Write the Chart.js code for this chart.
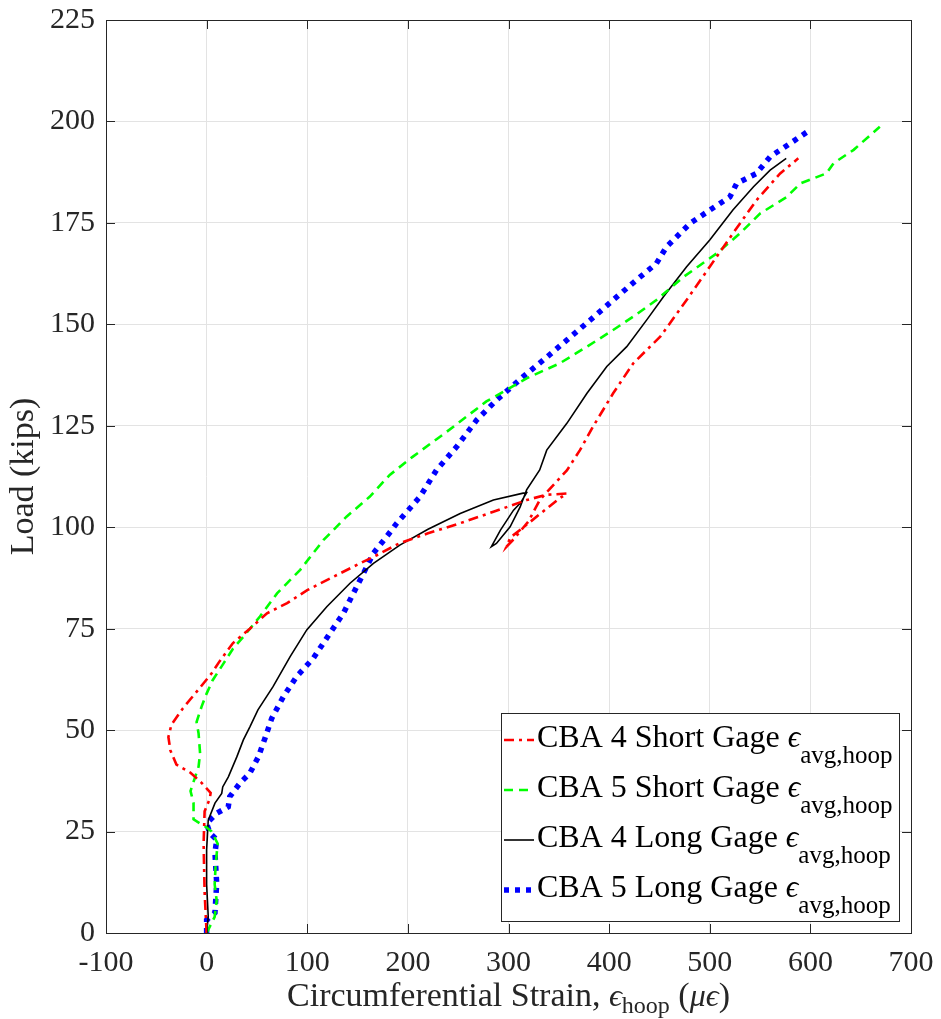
<!DOCTYPE html>
<html>
<head>
<meta charset="utf-8">
<script src="https://cdn.jsdelivr.net/npm/chart.js@4.4.1/dist/chart.umd.min.js"></script>
<style>
  html, body { margin: 0; padding: 0; background: #fff; }
  #wrap { width: 941px; height: 1019px; position: relative; }
</style>
</head>
<body>
<div id="wrap"><canvas id="loadChart"></canvas></div>
<script>
// tick labels
const xTicks = [-100, 0, 100, 200, 300, 400, 500, 600, 700];
const yTicks = [0, 25, 50, 75, 100, 125, 150, 175, 200, 225];

// CBA 4 short gage (red, dash-dot)
const cba4ShortStrain = [0, -2, -3, -2, 3, 4, -5, -16, -30, -36, -38, -35, -23.5, -8.5, 5, 13, 26, 43, 60, 80, 100, 126, 146, 169, 192, 220, 252, 285, 318, 338, 358, 350, 320, 302, 298, 305, 320, 331, 345, 358, 371, 384, 404, 424, 451, 477, 500, 523, 546.5, 570, 588];
const cba4ShortLoad   = [0, 10, 22, 30, 33, 34.5, 37, 39.5, 41.5, 45, 48.3, 51.3, 55.4, 59.9, 64, 67, 71.4, 75, 78.8, 81.3, 84.5, 87.8, 90.3, 93.1, 96.1, 98.5, 101, 103.8, 106.7, 108, 108.3, 107, 101, 97.5, 95.2, 97, 101.5, 106.7, 110.5, 114, 119, 124.8, 133, 140.4, 147, 156, 164.2, 172.4, 180.6, 187.2, 190.9];

// CBA 5 short gage (green, dashed)
const cba5ShortStrain = [0, 8, 10, 8, 9, 11, 5, 0, -13, -13, -16, -12, -8, -6.5, -8, -10, -5, 0, 6, 17, 26, 36.5, 53, 70, 93, 116, 139, 162, 182, 205, 238.5, 278, 318, 351, 378, 404, 424, 447, 474, 507, 530, 550, 576.5, 590, 616, 623, 643, 669];
const cba5ShortLoad   = [0, 4, 8, 12, 17, 22, 25, 26, 28, 32, 35, 38, 41, 44.3, 49.2, 52, 55.8, 59, 62.3, 66.5, 70, 73, 78, 83.7, 89.5, 96.8, 102.6, 107.5, 112.9, 117.4, 123.5, 131, 136.7, 140.4, 144.5, 148.6, 151.9, 156, 161.7, 167.5, 172.4, 177.3, 181.4, 184.7, 187.2, 189.7, 193, 198.7];

// CBA 4 long gage (black, solid)
const cba4LongStrain = [0, 1.6, 0, 0, 1.6, 8.3, 15, 16, 21.6, 30, 36.5, 43, 51, 66, 83, 99.5, 119.4, 142.5, 165.8, 192, 220, 252, 285, 314.6, 318, 312, 305, 292, 283, 288, 301.6, 311.6, 318, 331, 338, 358, 378, 397.7, 417.5, 437.4, 454, 477, 500, 523, 543.5, 560, 576];
const cba4LongLoad   = [0, 4, 12, 20.5, 27.8, 32, 34.4, 36, 38.5, 43.4, 47.6, 50.8, 55, 60.7, 68.1, 74.7, 80.4, 86.2, 91.1, 95.6, 99.5, 103.4, 106.7, 108.4, 108.5, 106, 104.2, 99.3, 95.2, 96, 100.1, 105, 109.2, 114.1, 119, 125.6, 133, 139.6, 144.5, 151.1, 156.8, 164.2, 170.8, 178.2, 183.9, 188, 190.9];

// CBA 5 long gage (blue, dotted)
const cba5LongStrain = [0, 0, 8.3, 10, 8.3, 10, 3.3, 0, 10, 21.5, 23, 33, 43, 51.4, 58, 64.7, 76.2, 89.4, 106, 122.6, 135.9, 145.8, 155.8, 165.7, 179, 189, 212, 228.5, 248.4, 268.3, 288, 314.6, 334.6, 357.9, 381, 404, 427, 447, 457, 480.6, 500.4, 520, 526.7, 546.5, 560, 580, 599.6];
const cba5LongLoad   = [0, 3.2, 5, 12.2, 19.7, 23, 24.6, 27, 29.5, 31.1, 33.6, 36.9, 39.4, 43.4, 48, 52.9, 58.2, 63.2, 67.7, 73.9, 78.8, 83.7, 88.6, 93.6, 97.7, 101, 107.5, 114.1, 119.8, 126.4, 131.3, 137.1, 141.2, 146.1, 151, 156, 160.9, 165, 169.1, 174.9, 178.2, 181.4, 184.7, 187.2, 191.3, 194.6, 197.9];

const seriesNames = ['CBA 4 Short Gage', 'CBA 5 Short Gage', 'CBA 4 Long Gage', 'CBA 5 Long Gage'];

const FONT = "'Liberation Serif', 'Times New Roman', 'DejaVu Serif', serif";
const INK = '#262626';

function toPoints(xs, ys) {
    return xs.map((v, i) => ({ x: v, y: ys[i] }));
}

const series = [
    { data: toPoints(cba4ShortStrain, cba4ShortLoad), color: '#ff0000', width: 2.6, dash: [10, 5, 3, 5] },
    { data: toPoints(cba5ShortStrain, cba5ShortLoad), color: '#00ff00', width: 2.6, dash: [9, 6] },
    { data: toPoints(cba4LongStrain, cba4LongLoad), color: '#000000', width: 1.6, dash: [] },
    { data: toPoints(cba5LongStrain, cba5LongLoad), color: '#0000ff', width: 5.5, dash: [5, 6] }
];

// draws sub-scripted text pieces, returns end x
function drawPieces(ctx, pieces, x, y) {
    pieces.forEach(p => {
        ctx.font = p.font;
        ctx.fillText(p.text, x, y + (p.dy || 0));
        x += ctx.measureText(p.text).width;
    });
    return x;
}
function measurePieces(ctx, pieces) {
    let w = 0;
    pieces.forEach(p => { ctx.font = p.font; w += ctx.measureText(p.text).width; });
    return w;
}

const frameAndLegend = {
    id: 'frameAndLegend',
    afterDatasetsDraw(chart) {
        const { ctx, chartArea: a, scales: { x, y } } = chart;
        ctx.save();

        // box + inward ticks (MATLAB style)
        ctx.strokeStyle = INK;
        ctx.lineWidth = 1;
        ctx.beginPath();
        xTicks.forEach(v => {
            const px = Math.round(x.getPixelForValue(v)) + 0.5;
            ctx.moveTo(px, a.bottom); ctx.lineTo(px, a.bottom - 9);
            ctx.moveTo(px, a.top); ctx.lineTo(px, a.top + 9);
        });
        yTicks.forEach(v => {
            const py = Math.round(y.getPixelForValue(v)) + 0.5;
            ctx.moveTo(a.left, py); ctx.lineTo(a.left + 9, py);
            ctx.moveTo(a.right, py); ctx.lineTo(a.right - 9, py);
        });
        ctx.stroke();
        ctx.strokeRect(Math.round(a.left) + 0.5, Math.round(a.top) + 0.5, Math.round(a.width), Math.round(a.height));

        // legend
        const boxW = 398, boxH = 208;
        const bx = a.right - 12 - boxW, by = a.bottom - 12 - boxH;
        ctx.fillStyle = '#fff';
        ctx.fillRect(bx, by, boxW, boxH);
        ctx.strokeRect(Math.round(bx) + 0.5, Math.round(by) + 0.5, boxW, boxH);

        series.forEach((s, i) => {
            const base = by + 34 + i * 50;
            ctx.strokeStyle = s.color;
            ctx.lineWidth = s.width;
            ctx.setLineDash(s.dash);
            ctx.beginPath();
            ctx.moveTo(bx + 3, base - 7);
            ctx.lineTo(bx + 33, base - 7);
            ctx.stroke();
            ctx.setLineDash([]);

            ctx.fillStyle = '#000';
            ctx.textAlign = 'left';
            ctx.textBaseline = 'alphabetic';
            drawPieces(ctx, [
                { text: seriesNames[i] + ' ', font: '32px ' + FONT },
                { text: '\u03f5', font: 'italic 31px ' + FONT },
                { text: 'avg,hoop', font: '25px ' + FONT, dy: 16 }
            ], bx + 36, base);
        });
        ctx.restore();
    },
    afterDraw(chart) {
        const { ctx, chartArea: a } = chart;
        ctx.save();
        ctx.fillStyle = INK;
        ctx.textBaseline = 'alphabetic';
        ctx.textAlign = 'left';

        // x title
        const xt = [
            { text: 'Circumferential Strain, ', font: '34px ' + FONT },
            { text: '\u03f5', font: 'italic 32px ' + FONT },
            { text: 'hoop', font: '24px ' + FONT, dy: 7 },
            { text: ' (', font: '34px ' + FONT },
            { text: '\u03bc\u03f5', font: 'italic 32px ' + FONT },
            { text: ')', font: '34px ' + FONT }
        ];
        const w = measurePieces(ctx, xt);
        drawPieces(ctx, xt, (a.left + a.right) / 2 - w / 2, 1006);

        // y title
        ctx.translate(33, (a.top + a.bottom) / 2);
        ctx.rotate(-Math.PI / 2);
        ctx.font = '34px ' + FONT;
        ctx.textAlign = 'center';
        ctx.fillText('Load (kips)', 0, 0);
        ctx.restore();
    }
};

new Chart(document.getElementById('loadChart'), {
    type: 'scatter',
    data: {
        datasets: series.map((s, i) => ({
            label: seriesNames[i],
            data: s.data,
            showLine: true,
            borderColor: s.color,
            backgroundColor: s.color,
            borderWidth: s.width,
            borderDash: s.dash,
            pointRadius: 0,
            pointHoverRadius: 0,
            tension: 0,
            fill: false
        }))
    },
    options: {
        responsive: true,
        maintainAspectRatio: false,
        animation: false,
        layout: { padding: { top: 20, right: 30, left: 0, bottom: 0 } },
        scales: {
            x: {
                type: 'linear',
                min: -100,
                max: 700,
                afterBuildTicks: scale => { scale.ticks = xTicks.map(v => ({ value: v })); },
                afterFit: scale => { scale.height = 86; scale.paddingLeft = 0; scale.paddingRight = 0; },
                grid: { color: '#e3e3e3', lineWidth: 1, drawTicks: false },
                border: { display: false },
                ticks: { color: INK, font: { family: FONT, size: 30 }, padding: 12, maxRotation: 0, autoSkip: false }
            },
            y: {
                type: 'linear',
                min: 0,
                max: 225,
                afterBuildTicks: scale => { scale.ticks = yTicks.map(v => ({ value: v })); },
                afterFit: scale => { scale.width = 106; scale.paddingTop = 0; scale.paddingBottom = 0; },
                grid: { color: '#e3e3e3', lineWidth: 1, drawTicks: false },
                border: { display: false },
                ticks: { color: INK, font: { family: FONT, size: 30 }, padding: 11, autoSkip: false }
            }
        },
        plugins: {
            legend: { display: false },
            tooltip: { enabled: false }
        }
    },
    plugins: [frameAndLegend]
});
</script>
</body>
</html>
